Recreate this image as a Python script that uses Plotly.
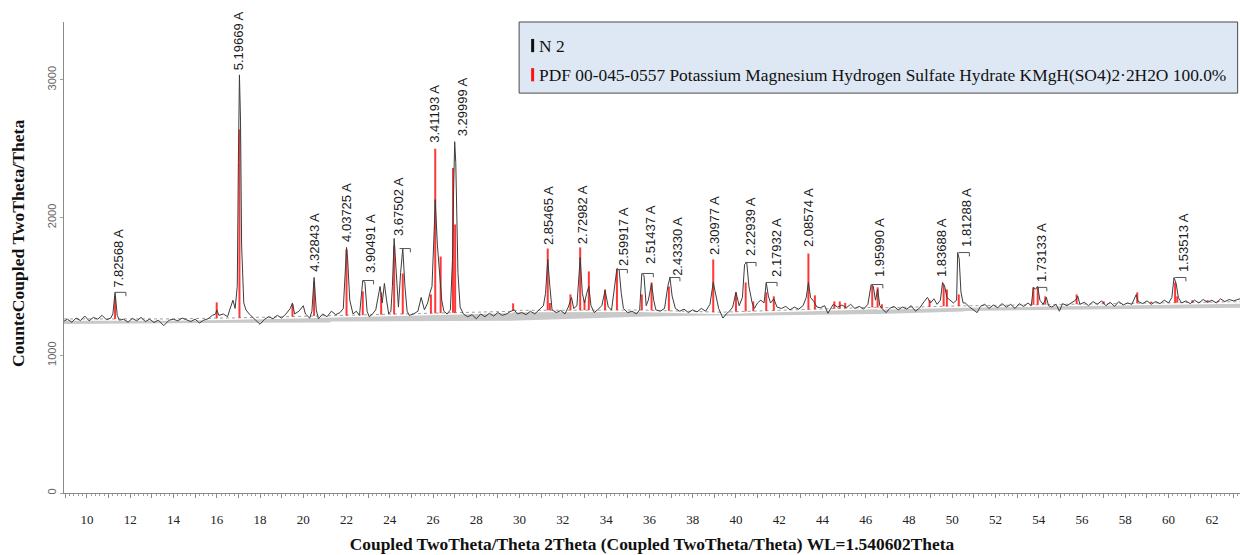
import numpy as np
import plotly.graph_objects as go

# ---- measured scan (2Theta in degrees, intensity in counts) ----
scan_two_theta = [
    8.94, 9.1, 9.3, 9.5, 9.7, 9.9, 10.1, 10.3, 10.5, 10.7,
    10.9, 11.1, 11.2, 11.3, 11.4, 11.5, 11.7, 11.9, 12.1, 12.3,
    12.5, 12.7, 12.9, 13.1, 13.3, 13.55, 13.8, 14.0, 14.2, 14.4,
    14.6, 14.8, 15.0, 15.2, 15.4, 15.6, 15.8, 15.95, 16.0, 16.1,
    16.3, 16.5, 16.6, 16.75, 16.85, 16.95, 17.0, 17.05, 17.1, 17.15,
    17.25, 17.35, 17.5, 17.7, 17.9, 18.0, 18.2, 18.4, 18.6, 18.8,
    19.0, 19.2, 19.4, 19.5, 19.6, 19.8, 20.0, 20.1, 20.3, 20.4,
    20.5, 20.6, 20.7, 20.9, 21.1, 21.3, 21.5, 21.7, 21.85, 21.95,
    22.0, 22.05, 22.15, 22.3, 22.45, 22.6, 22.7, 22.75, 22.85, 22.95,
    23.05, 23.2, 23.35, 23.45, 23.55, 23.65, 23.75, 23.85, 23.95, 24.05,
    24.12, 24.2, 24.3, 24.4, 24.5, 24.6, 24.7, 24.8, 24.9, 25.1,
    25.3, 25.45, 25.6, 25.75, 25.85, 25.95, 26.05, 26.1, 26.2, 26.3,
    26.4, 26.5, 26.65, 26.8, 26.9, 26.95, 27.0, 27.05, 27.15, 27.25,
    27.4, 27.6, 27.8, 28.0, 28.2, 28.4, 28.6, 28.8, 29.0, 29.2,
    29.4, 29.6, 29.75, 29.9, 30.1, 30.3, 30.5, 30.7, 30.9, 31.1,
    31.2, 31.3, 31.4, 31.5, 31.7, 31.9, 32.1, 32.25, 32.4, 32.5,
    32.65, 32.75, 32.8, 32.9, 33.0, 33.1, 33.2, 33.3, 33.45, 33.6,
    33.8, 33.95, 34.1, 34.25, 34.4, 34.5, 34.6, 34.7, 34.8, 35.0,
    35.2, 35.4, 35.55, 35.65, 35.75, 35.85, 35.95, 36.1, 36.2, 36.3,
    36.5, 36.7, 36.85, 36.95, 37.05, 37.2, 37.4, 37.6, 37.8, 38.0,
    38.2, 38.4, 38.6, 38.8, 38.95, 39.05, 39.2, 39.4, 39.55, 39.7,
    39.85, 40.0, 40.15, 40.3, 40.4, 40.5, 40.6, 40.75, 40.85, 41.0,
    41.15, 41.3, 41.4, 41.5, 41.6, 41.75, 41.9, 42.1, 42.3, 42.5,
    42.7, 42.9, 43.1, 43.25, 43.35, 43.45, 43.6, 43.75, 43.9, 44.1,
    44.25, 44.5, 44.7, 44.9, 45.1, 45.3, 45.5, 45.7, 45.9, 46.1,
    46.25, 46.35, 46.45, 46.55, 46.65, 46.8, 46.95, 47.1, 47.3, 47.5,
    47.7, 47.9, 48.1, 48.3, 48.5, 48.7, 48.85, 49.0, 49.15, 49.3,
    49.45, 49.55, 49.65, 49.75, 49.9, 50.05, 50.2, 50.25, 50.32, 50.4,
    50.5, 50.6, 50.8, 51.0, 51.15, 51.3, 51.5, 51.7, 51.9, 52.1,
    52.3, 52.5, 52.7, 52.9, 53.1, 53.3, 53.5, 53.65, 53.75, 53.85,
    53.95, 54.05, 54.2, 54.35, 54.45, 54.6, 54.8, 54.95, 55.1, 55.3,
    55.5, 55.7, 55.8, 55.9, 56.1, 56.3, 56.5, 56.7, 56.9, 57.1,
    57.3, 57.5, 57.7, 57.9, 58.1, 58.3, 58.5, 58.6, 58.8, 59.0,
    59.2, 59.4, 59.6, 59.8, 60.0, 60.15, 60.25, 60.35, 60.45, 60.6,
    60.8, 61.0, 61.2, 61.4, 61.6, 61.8, 62.0, 62.2, 62.4, 62.6,
    62.8, 63.0, 63.3,
]
scan_counts = [
    1248, 1262, 1240, 1270, 1252, 1285, 1250, 1275, 1262, 1290,
    1258, 1270, 1300, 1457, 1290, 1255, 1262, 1240, 1268, 1250,
    1275, 1245, 1262, 1238, 1255, 1215, 1255, 1262, 1250, 1270,
    1258, 1245, 1262, 1235, 1255, 1265, 1290, 1300, 1330, 1290,
    1300, 1280, 1330, 1400, 1340, 1500, 2400, 3036, 2700, 1800,
    1380, 1330, 1300, 1270, 1240, 1225, 1260, 1280, 1265, 1290,
    1270, 1300, 1340, 1380, 1300, 1320, 1360, 1300, 1270, 1320,
    1565, 1330, 1265, 1300, 1280, 1320, 1295, 1310, 1340, 1600,
    1783, 1700, 1400, 1300, 1320, 1290, 1480, 1543, 1530, 1320,
    1280, 1300, 1330, 1420, 1500, 1380, 1522, 1400, 1300, 1320,
    1500, 1848, 1600, 1350, 1600, 1775, 1500, 1320, 1290, 1300,
    1320, 1420, 1330, 1380, 1450, 1500, 1900, 2130, 1800, 1600,
    1400, 1320, 1300, 1330, 1700, 2200, 2551, 2400, 1600, 1350,
    1300, 1280, 1295, 1265, 1300, 1280, 1305, 1285, 1310, 1290,
    1300, 1320, 1330, 1300, 1310, 1295, 1320, 1300, 1330, 1360,
    1450, 1696, 1500, 1330, 1310, 1325, 1300, 1350, 1420, 1340,
    1360, 1600, 1710, 1450, 1380, 1450, 1500, 1360, 1310, 1330,
    1360, 1470, 1350, 1330, 1500, 1630, 1620, 1450, 1340, 1310,
    1320, 1300, 1330, 1594, 1580, 1360, 1400, 1520, 1400, 1330,
    1320, 1340, 1500, 1565, 1430, 1340, 1320, 1335, 1310, 1330,
    1315, 1340, 1320, 1370, 1529, 1450, 1340, 1270, 1300, 1320,
    1350, 1457, 1360, 1420, 1660, 1674, 1500, 1380, 1340, 1380,
    1400, 1380, 1529, 1430, 1380, 1410, 1350, 1340, 1355, 1330,
    1350, 1335, 1360, 1420, 1529, 1420, 1390, 1350, 1345, 1360,
    1305, 1370, 1350, 1365, 1345, 1370, 1340, 1355, 1335, 1370,
    1514, 1500, 1400, 1480, 1360, 1330, 1310, 1340, 1355, 1330,
    1350, 1335, 1360, 1320, 1345, 1390, 1420, 1380, 1410, 1370,
    1400, 1529, 1500, 1420, 1400, 1380, 1400, 1746, 1700, 1460,
    1380, 1380, 1350, 1330, 1310, 1355, 1370, 1340, 1365, 1345,
    1375, 1350, 1370, 1340, 1375, 1355, 1380, 1360, 1493, 1480,
    1500, 1400, 1370, 1420, 1360, 1350, 1370, 1320, 1375, 1360,
    1380, 1400, 1430, 1370, 1385, 1360, 1390, 1370, 1395, 1360,
    1385, 1355, 1390, 1365, 1380, 1370, 1440, 1390, 1375, 1395,
    1370, 1390, 1375, 1400, 1380, 1420, 1565, 1520, 1420, 1380,
    1395, 1375, 1400, 1380, 1405, 1385, 1400, 1380, 1410, 1390,
    1405, 1395, 1410,
]

# ---- fitted background band ----
bg_two_theta = [8.94, 14.0, 17.0, 21.2, 21.3, 29.6, 29.7, 35.5, 39.4, 39.5, 46.5, 46.6, 50.5, 50.6, 63.3]
bg_upper = [1250, 1250, 1258, 1275, 1272, 1305, 1312, 1315, 1298, 1300, 1335, 1330, 1345, 1345, 1375]
bg_lower = [1228, 1232, 1236, 1238, 1245, 1250, 1255, 1280, 1290, 1285, 1300, 1300, 1318, 1322, 1345]

# ---- reference pattern PDF 00-045-0557 (stick positions and heights) ----
stick_two_theta = [
    11.30, 16.00, 17.05, 19.50, 20.50, 22.00, 22.75, 23.60, 24.20, 24.60,
    25.90, 26.10, 26.35, 26.92, 27.02, 29.70, 31.30, 31.40, 32.35, 32.80,
    33.00, 33.20, 33.95, 34.50, 35.65, 36.10, 36.90, 38.95, 40.00, 40.45,
    40.80, 41.40, 41.75, 43.35, 43.65, 44.55, 44.80, 45.05, 46.30, 46.55,
    46.75, 48.95, 49.60, 49.75, 50.30, 53.75, 53.95, 54.30, 55.75, 57.00,
    58.55, 59.20, 60.30, 60.40, 61.10, 61.80, 62.30,
]
stick_counts = [
    1430, 1384, 2640, 1370, 1536, 1768, 1464, 1457, 1797, 1594,
    1442, 2500, 1717, 2360, 1950, 1377, 1775, 1380, 1442, 1783,
    1400, 1609, 1478, 1623, 1442, 1529, 1500, 1696, 1457, 1529,
    1391, 1457, 1428, 1739, 1435, 1391, 1391, 1380, 1507, 1493,
    1370, 1400, 1514, 1478, 1442, 1493, 1493, 1428, 1442, 1391,
    1457, 1390, 1529, 1428, 1400, 1400, 1395,
]

# ---- d-spacing peak labels ----
label_text = [
    "7.82568 A", "5.19669 A", "4.32843 A", "4.03725 A", "3.90491 A", "3.67502 A",
    "3.41193 A", "3.29999 A", "2.85465 A", "2.72982 A", "2.59917 A", "2.51437 A",
    "2.43330 A", "2.30977 A", "2.22939 A", "2.17932 A", "2.08574 A", "1.95990 A",
    "1.83688 A", "1.81288 A", "1.73133 A", "1.53513 A",
]
label_two_theta = [
    11.48, 16.98, 20.54, 21.97, 23.08, 24.38, 26.09, 27.34, 31.31, 32.89, 34.83,
    36.03, 37.32, 39.03, 40.65, 41.85, 43.38, 46.66, 49.53, 50.68, 54.15, 60.67,
]
label_counts = [
    1464, 3043, 1580, 1797, 1572, 1833, 2514, 2558, 1775, 1775, 1616,
    1630, 1551, 1703, 1688, 1543, 1754, 1536, 1536, 1761, 1500, 1572,
]

# peak-top markers drawn as small brackets
bracket_two_theta = [11.30, 22.75, 24.45, 34.48, 35.68, 36.91, 40.43, 41.40, 46.29, 50.29, 53.87, 60.30]
bracket_counts = [1457, 1543, 1775, 1623, 1594, 1565, 1674, 1529, 1514, 1746, 1493, 1565]

x_tick_values = list(range(9, 64))
x_tick_labels = [str(v) if v % 2 == 0 else "" for v in x_tick_values]
y_tick_values = [0, 1000, 2000, 3000]

legend_entries = ["N 2", "PDF 00-045-0557 Potassium Magnesium Hydrogen Sulfate Hydrate KMgH(SO4)2\u00b72H2O 100.0%"]
legend_colors = ["#111111", "#ff1010"]

X_RANGE = [8.94, 63.3]
Y_RANGE = [0, 3420]

SERIF = "Liberation Serif, Times New Roman, serif"
SANS = "Liberation Sans, Arial, sans-serif"

fig = go.Figure()

# background band
fig.add_trace(go.Scatter(
    x=bg_two_theta + bg_two_theta[::-1],
    y=bg_upper + bg_lower[::-1],
    fill="toself", fillcolor="#c9c9c9", mode="lines",
    line=dict(width=0), hoverinfo="skip", showlegend=False,
))
fig.add_trace(go.Scatter(
    x=bg_two_theta, y=[v + 14 for v in bg_upper], mode="lines",
    line=dict(color="#a0a0a0", width=1, dash="dot"),
    hoverinfo="skip", showlegend=False,
))

# reference sticks, rising from the background
stick_base = np.interp(stick_two_theta, bg_two_theta, bg_upper) + 14
sx, sy = [], []
for t, c, b in zip(stick_two_theta, stick_counts, stick_base):
    sx += [t, t, None]
    sy += [b, c, None]
fig.add_trace(go.Scatter(
    x=sx, y=sy, mode="lines", line=dict(color="rgba(255,20,20,0.85)", width=2),
    hoverinfo="skip", showlegend=False,
))

# measured scan
fig.add_trace(go.Scatter(
    x=scan_two_theta, y=scan_counts, mode="lines",
    line=dict(color="#3c3c3c", width=1),
    hoverinfo="skip", showlegend=False,
))

# brackets at labelled peak tops
bx, by = [], []
for t, c in zip(bracket_two_theta, bracket_counts):
    bx += [t, t + 0.5, t + 0.5, None]
    by += [c, c, c - 28, None]
fig.add_trace(go.Scatter(
    x=bx, y=by, mode="lines", line=dict(color="#555555", width=1),
    hoverinfo="skip", showlegend=False,
))

annotations = []
for t, c, s in zip(label_two_theta, label_counts, label_text):
    annotations.append(dict(
        x=t, y=c, xref="x", yref="y", text=s, textangle=-90,
        xanchor="center", yanchor="bottom", showarrow=False, yshift=2,
        font=dict(family=SANS, size=13, color="#1a1a1a"),
    ))

# y-axis title placed beside the tick labels
annotations.append(dict(
    x=-0.039, y=0.529, xref="paper", yref="paper",
    text="<b>CounteCoupled TwoTheta/Theta</b>", textangle=-90,
    xanchor="center", yanchor="middle", showarrow=False,
    font=dict(family=SERIF, size=17.6, color="#111111"),
))

# legend panel
shapes = [dict(
    type="rect", xref="paper", yref="paper", x0=0.387, x1=0.998, y0=0.849, y1=1.0,
    fillcolor="#dde8f4", line=dict(color="#4a4a4a", width=1), layer="above",
)]
legend_y = [0.950, 0.888]
for yy, s, col in zip(legend_y, legend_entries, legend_colors):
    shapes.append(dict(
        type="line", xref="paper", yref="paper", x0=0.3985, x1=0.3985,
        y0=yy - 0.014, y1=yy + 0.014, line=dict(color=col, width=3), layer="above",
    ))
    annotations.append(dict(
        x=0.4025, y=yy, xref="paper", yref="paper", text=s, showarrow=False,
        xanchor="left", yanchor="middle",
        font=dict(family=SERIF, size=17.4, color="#111111"),
    ))

fig.update_layout(
    width=1240, height=555,
    margin=dict(l=64, r=0, t=22, b=62),
    paper_bgcolor="white", plot_bgcolor="white",
    showlegend=False,
    shapes=shapes, annotations=annotations,
    xaxis=dict(
        range=X_RANGE, showgrid=False, zeroline=False,
        showline=True, linecolor="#8a8a8a", linewidth=1,
        tickmode="array", tickvals=x_tick_values, ticktext=x_tick_labels,
        ticks="outside", ticklen=4, tickcolor="#8a8a8a",
        minor=dict(dtick=0.2, ticks="outside", ticklen=2, tickcolor="#a0a0a0"),
        ticklabelstandoff=10,
        tickfont=dict(family=SERIF, size=13, color="#222222"),
        title=dict(
            text="<b>Coupled TwoTheta/Theta 2Theta (Coupled TwoTheta/Theta) WL=1.540602Theta</b>",
            font=dict(family=SERIF, size=17.4, color="#111111"),
            standoff=12,
        ),
    ),
    yaxis=dict(
        range=Y_RANGE, showgrid=False, zeroline=False,
        showline=True, linecolor="#8a8a8a", linewidth=1,
        tickmode="array", tickvals=y_tick_values, tickangle=-90,
        ticks="outside", ticklen=3, tickcolor="#a0a0a0",
        tickfont=dict(family=SANS, size=11, color="#666666"),
    ),
)

fig.write_html("out.html")
